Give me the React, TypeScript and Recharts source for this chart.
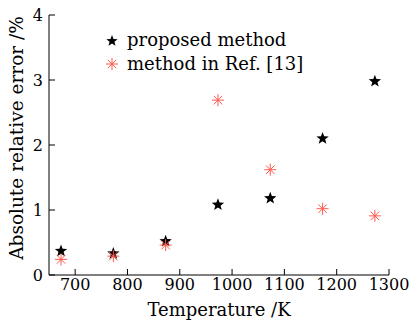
import { ScatterChart, Scatter, XAxis, YAxis, Legend } from "recharts";

const temperatures = [673, 773, 873, 973, 1073, 1173, 1273];
const proposedError = [0.37, 0.33, 0.52, 1.08, 1.18, 2.1, 2.98];
const refError = [0.24, 0.29, 0.46, 2.69, 1.62, 1.02, 0.91];
const xTicks = [700, 800, 900, 1000, 1100, 1200, 1300];
const yTicks = [0, 1, 2, 3, 4];

const proposedData = temperatures.map((t, i) => ({ t, err: proposedError[i] }));
const refData = temperatures.map((t, i) => ({ t, err: refError[i] }));

const FONT = "DejaVu Serif";
const RED = "#ff5a50";

function starPoints(cx: number, cy: number, r: number) {
    const pts: string[] = [];
    for (let i = 0; i < 10; i++) {
        const rad = i % 2 === 0 ? r : r * 0.42;
        const a = -Math.PI / 2 + (i * Math.PI) / 5;
        pts.push(`${cx + rad * Math.cos(a)},${cy + rad * Math.sin(a)}`);
    }
    return pts.join(" ");
}

const StarShape = (props: any) => {
    const { cx, cy } = props;
    return <polygon points={starPoints(cx, cy, 6.5)} fill="#000" />;
};

const AsteriskShape = (props: any) => {
    const { cx, cy } = props;
    const r = 6;
    const d = r * 0.707;
    return (
        <g stroke={RED} strokeWidth={1}>
            <line x1={cx - r} y1={cy} x2={cx + r} y2={cy} />
            <line x1={cx} y1={cy - r} x2={cx} y2={cy + r} />
            <line x1={cx - d} y1={cy - d} x2={cx + d} y2={cy + d} />
            <line x1={cx - d} y1={cy + d} x2={cx + d} y2={cy - d} />
        </g>
    );
};

const LegendContent = () => (
    <div style={{ fontFamily: FONT, fontSize: 18, color: "#000", lineHeight: "24px" }}>
        <div style={{ display: "flex", alignItems: "center" }}>
            <svg width={16} height={16} style={{ marginRight: 7 }}>
                <polygon points={starPoints(8, 9, 6)} fill="#000" />
            </svg>
            proposed method
        </div>
        <div style={{ display: "flex", alignItems: "center" }}>
            <svg width={16} height={16} style={{ marginRight: 7 }}>
                <g stroke={RED} strokeWidth={1}>
                    <line x1={2} y1={8} x2={14} y2={8} />
                    <line x1={8} y1={2} x2={8} y2={14} />
                    <line x1={3.8} y1={3.8} x2={12.2} y2={12.2} />
                    <line x1={3.8} y1={12.2} x2={12.2} y2={3.8} />
                </g>
            </svg>
            method in Ref. [13]
        </div>
    </div>
);

export default function App() {
    const tickStyle = { fontFamily: FONT, fontSize: 16, fill: "#000" };
    return (
        <div style={{ position: "absolute", left: 0, top: 0, background: "#fff" }}>
            <ScatterChart width={411} height={324} margin={{ top: 15, right: 22, left: 0, bottom: 0 }}>
                <XAxis
                    type="number"
                    dataKey="t"
                    domain={[650, 1300]}
                    ticks={xTicks}
                    height={49}
                    tickSize={-6}
                    tickMargin={10}
                    tick={tickStyle}
                    axisLine={{ stroke: "#000" }}
                    tickLine={{ stroke: "#000" }}
                    label={{ value: "Temperature /K", position: "insideBottom", offset: 8, style: { fontFamily: FONT, fontSize: 18, fill: "#000" } }}
                />
                <XAxis xAxisId="top" orientation="top" type="number" domain={[650, 1300]} height={0} tick={false} tickLine={false} axisLine={{ stroke: "#000" }} />
                <YAxis
                    type="number"
                    dataKey="err"
                    domain={[0, 4]}
                    ticks={yTicks}
                    width={49}
                    tickSize={-6}
                    tickMargin={12}
                    tick={tickStyle}
                    axisLine={{ stroke: "#000" }}
                    tickLine={{ stroke: "#000" }}
                    label={{ value: "Absolute relative error /%", angle: -90, position: "insideLeft", offset: 16, dy: -7, style: { textAnchor: "middle", fontFamily: FONT, fontSize: 18.5, fill: "#000" } }}
                />
                <YAxis yAxisId="right" orientation="right" type="number" domain={[0, 4]} width={0} tick={false} tickLine={false} axisLine={{ stroke: "#000" }} />
                <Legend layout="vertical" align="center" verticalAlign="middle" content={LegendContent} wrapperStyle={{ left: 104, top: 28, width: 280 }} />
                <Scatter name="proposed method" data={proposedData} shape={StarShape} isAnimationActive={false} />
                <Scatter name="method in Ref. [13]" data={refData} shape={AsteriskShape} isAnimationActive={false} />
            </ScatterChart>
        </div>
    );
}
